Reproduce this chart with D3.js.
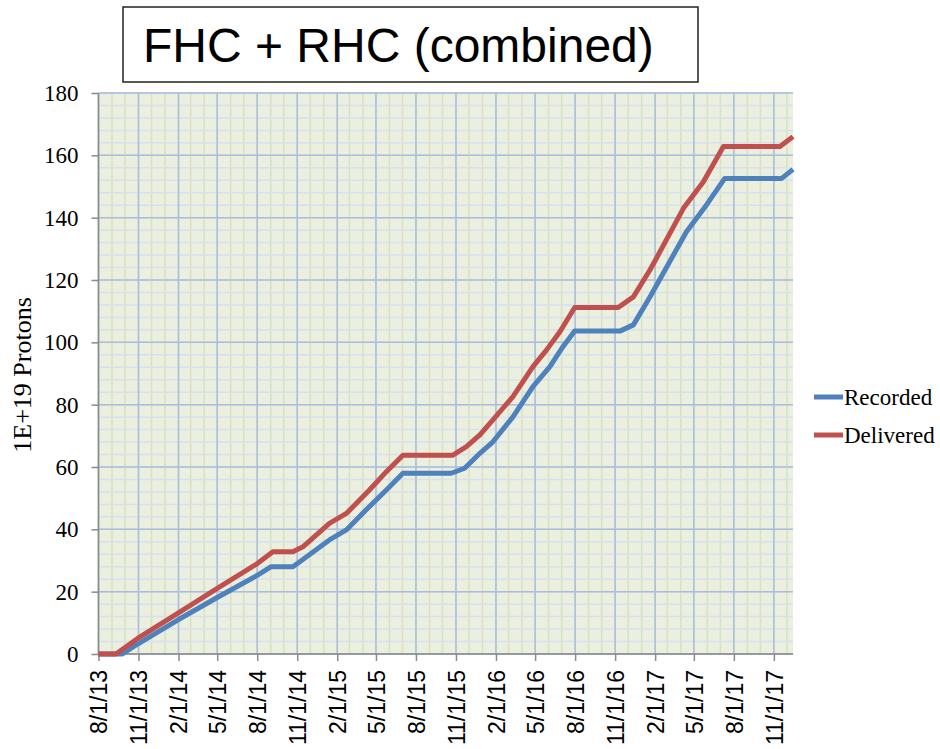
<!DOCTYPE html>
<html>
<head>
<meta charset="utf-8">
<script src="https://cdn.jsdelivr.net/npm/d3@7"></script>
<style>
  body { margin: 0; background: #fff; }
  svg { display: block; }
</style>
</head>
<body>
<svg width="940" height="749"></svg>
<script>
  // cumulative protons (1E+19)
  const deliveredDates = ['2013-08-01','2013-09-10','2013-10-30','2014-01-30','2014-05-02','2014-08-02',
    '2014-09-06','2014-10-22','2014-11-14','2015-01-14','2015-02-22','2015-04-16','2015-05-25',
    '2015-07-02','2015-10-25','2015-11-25','2015-12-26','2016-01-25','2016-03-11','2016-04-26',
    '2016-05-27','2016-06-27','2016-07-31','2016-11-08','2016-12-13','2017-01-20','2017-02-04',
    '2017-04-07','2017-05-23','2017-07-08','2017-11-15','2017-12-15'];
  const deliveredValues = [0, 0, 5.0, 13.0, 21.1, 29.1,
    32.8, 32.8, 34.4, 41.9, 45.1, 52.6, 58.5,
    63.8, 63.8, 66.5, 70.3, 75.1, 82.6, 92.2,
    97.5, 103.4, 111.2, 111.2, 114.6, 123.2, 127.0,
    143.0, 151.5, 162.8, 162.8, 166.0];

  const recordedDates = ['2013-08-01','2013-09-25','2013-10-30','2014-01-30','2014-05-02','2014-08-02',
    '2014-09-02','2014-10-22','2014-11-14','2015-01-14','2015-02-22','2015-04-08','2015-05-25',
    '2015-07-02','2015-10-21','2015-11-21','2015-12-26','2016-01-25','2016-03-11','2016-04-26',
    '2016-06-04','2016-07-04','2016-07-31','2016-11-12','2016-12-13','2017-01-22','2017-04-14',
    '2017-05-30','2017-07-11','2017-11-19','2017-12-15'];
  const recordedValues = [0, 0, 3.2, 10.9, 18.2, 25.3,
    28.0, 28.0, 30.3, 36.6, 39.8, 46.2, 52.6,
    58.0, 58.0, 59.6, 64.4, 68.1, 76.1, 85.8,
    92.2, 98.6, 103.6, 103.6, 105.6, 115.0, 135.5,
    144.1, 152.6, 152.6, 155.5];

  const seriesNames = ['Recorded', 'Delivered'];
  const yTicks = [0, 20, 40, 60, 80, 100, 120, 140, 160, 180];
  const xStart = '2013-08-01';
  const xEnd = '2017-12-15';

  const parse = d3.timeParse('%Y-%m-%d');
  const fmt = d3.timeFormat('%-m/%-d/%y');

  const svg = d3.select('svg');
  const pLeft = 98.5, pRight = 793, pTop = 93, pBottom = 654;

  const x = d3.scaleTime().domain([parse(xStart), parse(xEnd)]).range([pLeft, pRight]);
  const y = d3.scaleLinear().domain([0, 180]).range([pBottom, pTop]);

  // plot background
  svg.append('rect')
    .attr('x', pLeft).attr('y', pTop)
    .attr('width', pRight - pLeft).attr('height', pBottom - pTop)
    .attr('fill', '#ebefe0');

  const months = d3.timeMonth.range(parse(xStart), parse(xEnd));
  const quarters = months.filter((d, i) => i % 3 === 0);

  const grid = svg.append('g');
  grid.selectAll('.vminor')
    .data(months)
    .enter().append('line')
    .attr('x1', d => x(d)).attr('x2', d => x(d))
    .attr('y1', pTop).attr('y2', pBottom)
    .attr('stroke', '#d9e1bd').attr('stroke-width', 1.5);

  grid.selectAll('.hminor')
    .data(d3.range(0, 181, 4))
    .enter().append('line')
    .attr('x1', pLeft).attr('x2', pRight)
    .attr('y1', d => y(d)).attr('y2', d => y(d))
    .attr('stroke', '#d6e0ee').attr('stroke-width', 1.5);

  grid.selectAll('.vmajor')
    .data(quarters)
    .enter().append('line')
    .attr('x1', d => x(d)).attr('x2', d => x(d))
    .attr('y1', pTop).attr('y2', pBottom)
    .attr('stroke', '#a9bedb').attr('stroke-width', 1.5);

  grid.selectAll('.hmajor')
    .data(yTicks)
    .enter().append('line')
    .attr('x1', pLeft).attr('x2', pRight)
    .attr('y1', d => y(d)).attr('y2', d => y(d))
    .attr('stroke', '#a9bedb').attr('stroke-width', 1.5);

  // axes
  const yAxis = svg.append('g')
    .attr('transform', `translate(${pLeft},0)`)
    .call(d3.axisLeft(y).tickValues(yTicks).tickSize(7).tickPadding(13));
  yAxis.selectAll('path, line').attr('stroke', '#8a8a8a').attr('stroke-width', 1.5);
  yAxis.select('.domain').attr('d', `M0,${pTop}V${pBottom}`);
  yAxis.selectAll('text')
    .attr('font-family', '"Liberation Serif", "Times New Roman", serif')
    .attr('font-size', 23).attr('fill', '#000');

  const xAxis = svg.append('g')
    .attr('transform', `translate(0,${pBottom})`)
    .call(d3.axisBottom(x).tickValues(quarters).tickFormat(fmt).tickSize(7).tickSizeOuter(0));
  xAxis.selectAll('path, line').attr('stroke', '#8a8a8a').attr('stroke-width', 1.5);
  xAxis.select('.domain').attr('d', `M${pLeft},0H${pRight}`);
  xAxis.selectAll('text')
    .attr('font-family', '"Liberation Sans", Arial, sans-serif')
    .attr('font-size', 23).attr('fill', '#000')
    .attr('text-anchor', 'end')
    .attr('transform', 'rotate(-90)')
    .attr('x', -16).attr('y', 0).attr('dy', '0.36em');

  svg.append('text')
    .attr('transform', 'translate(31,375) rotate(-90)')
    .attr('text-anchor', 'middle')
    .attr('font-family', '"Liberation Serif", "Times New Roman", serif')
    .attr('font-size', 26)
    .text('1E+19 Protons');

  // series
  const colors = ['#4f81bd', '#c0504d'];
  const series = [
    recordedDates.map((d, i) => [parse(d), recordedValues[i]]),
    deliveredDates.map((d, i) => [parse(d), deliveredValues[i]])
  ];
  const line = d3.line().x(d => x(d[0])).y(d => y(d[1]));

  svg.selectAll('.series')
    .data(series)
    .enter().append('path')
    .attr('d', line)
    .attr('fill', 'none')
    .attr('stroke', (d, i) => colors[i])
    .attr('stroke-width', 5)
    .attr('stroke-linejoin', 'round');

  // legend
  const legend = svg.append('g');
  seriesNames.forEach((name, i) => {
    const ly = 397 + i * 38;
    legend.append('line')
      .attr('x1', 814).attr('x2', 843).attr('y1', ly).attr('y2', ly)
      .attr('stroke', colors[i]).attr('stroke-width', 5);
    legend.append('text')
      .attr('x', 844).attr('y', ly + 8)
      .attr('font-family', '"Liberation Serif", "Times New Roman", serif')
      .attr('font-size', 23)
      .text(name);
  });

  // title box
  svg.append('rect')
    .attr('x', 123).attr('y', 7).attr('width', 575).attr('height', 75)
    .attr('fill', '#fff').attr('stroke', '#222').attr('stroke-width', 1.5);
  svg.append('text')
    .attr('x', 143).attr('y', 62)
    .attr('font-family', '"Liberation Sans", Arial, sans-serif')
    .attr('font-size', 48)
    .text('FHC + RHC (combined)');
</script>
</body>
</html>
